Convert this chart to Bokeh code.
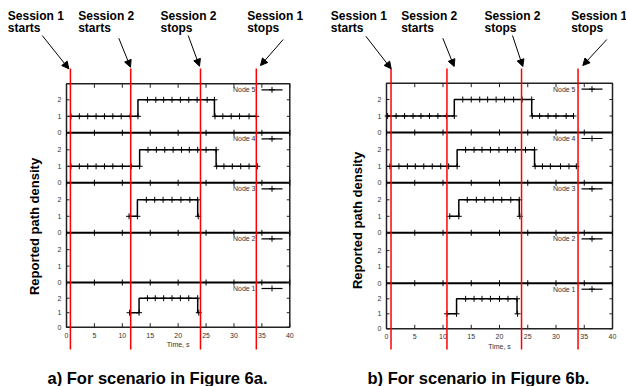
import math
from bokeh.plotting import figure
from bokeh.models import Range1d, Label, Arrow, NormalHead, ColumnDataSource
from bokeh.embed import file_html
from bokeh.resources import INLINE
from bokeh.core.properties import value

FONT = "Liberation Sans"

# ---------------- data ----------------
x_ticks = [0, 5, 10, 15, 20, 25, 30, 35, 40]
y_tick_values = [0, 1, 2]
node_names = ["Node 1", "Node 2", "Node 3", "Node 4", "Node 5"]
event_titles = ["Session 1", "Session 2", "Session 2", "Session 1"]
event_actions = ["starts", "starts", "stops", "stops"]
captions = ["a) For scenario in Figure 6a.", "b) For scenario in Figure 6b."]
x_label = "Time, s"
y_label = "Reported path density"

# scenario a
a_node1_t = [11.3, 13.0, 14.5, 15.9, 17.4, 18.9, 20.4, 21.9, 23.5, 23.7]
a_node1_y = [1, 1, 2, 2, 2, 2, 2, 2, 2, 1]
a_node2_t = []
a_node2_y = []
a_node3_t = [11.2, 12.7, 14.3, 15.8, 17.3, 18.9, 20.5, 22.1, 23.5, 23.6]
a_node3_y = [1, 1, 2, 2, 2, 2, 2, 2, 2, 1]
a_node4_t = [0.8, 2.3, 3.8, 5.3, 6.8, 8.3, 10.0, 11.6, 13.1,
             14.6, 16.1, 17.6, 19.1, 20.6, 22.0, 23.5, 25.0, 26.8,
             26.9, 28.2, 29.7, 31.2, 32.7, 34.2]
a_node4_y = [1, 1, 1, 1, 1, 1, 1, 1, 1,
             2, 2, 2, 2, 2, 2, 2, 2, 2,
             1, 1, 1, 1, 1, 1]
a_node5_t = [0.8, 2.3, 3.8, 5.3, 6.8, 8.3, 9.8, 11.4, 12.8,
             14.5, 16.0, 17.4, 18.9, 20.4, 21.9, 23.4, 25.2, 26.5,
             26.6, 28.0, 29.5, 31.0, 32.7, 34.0]
a_node5_y = [1, 1, 1, 1, 1, 1, 1, 1, 1,
             2, 2, 2, 2, 2, 2, 2, 2, 2,
             1, 1, 1, 1, 1, 1]
a_events = [0.7, 11.5, 24.0, 34.0]

# scenario b
b_node1_t = [10.7, 12.4, 14.0, 15.5, 16.9, 18.4, 20.0, 21.5, 23.1, 23.2]
b_node1_y = [1, 1, 2, 2, 2, 2, 2, 2, 2, 1]
b_node2_t = []
b_node2_y = []
b_node3_t = [11.2, 12.8, 14.3, 15.9, 17.4, 18.9, 20.4, 22.0, 23.5, 23.6]
b_node3_y = [1, 1, 2, 2, 2, 2, 2, 2, 2, 1]
b_node4_t = [0.6, 2.2, 3.7, 5.1, 6.6, 8.1, 9.6, 11.0, 12.5,
             14.0, 15.5, 16.9, 18.4, 19.9, 21.4, 22.8, 24.6, 26.2,
             26.3, 27.6, 29.0, 30.8, 32.3, 33.6]
b_node4_y = [1, 1, 1, 1, 1, 1, 1, 1, 1,
             2, 2, 2, 2, 2, 2, 2, 2, 2,
             1, 1, 1, 1, 1, 1]
b_node5_t = [0.2, 1.7, 3.2, 4.7, 6.1, 7.6, 9.1, 10.6, 12.0,
             13.5, 15.0, 16.5, 17.9, 19.4, 20.9, 22.5, 24.0, 25.7,
             25.8, 27.1, 28.6, 30.0, 31.8, 33.1]
b_node5_y = [1, 1, 1, 1, 1, 1, 1, 1, 1,
             2, 2, 2, 2, 2, 2, 2, 2, 2,
             1, 1, 1, 1, 1, 1]
b_events = [0.8, 10.7, 23.9, 33.9]

# ---------------- layout (positions / styles, in page pixels) ----------------
W, H = 626, 386
GRAY = "#333333"
PANELS = [
    dict(name="default", left=66, right=289.3, top=83.3,
         zero=[326.7, 282, 232.3, 182.3, 132.3], scale=[14.5, 16.4, 16.5, 16.5, 16.5],
         text_x=[7.3, 77.7, 160, 246.7],
         arrows=[(41.7, 35, 68.3, 68.3), (118.3, 37.7, 130, 66.7),
                 (187.7, 35, 199, 65.7), (282.7, 39, 260, 65)],
         cap_x=47, ylab=(33.5, 226)),
    dict(name="b", left=386, right=612, top=82.7,
         zero=[328.3, 282.7, 232.3, 182.3, 132.0], scale=[15.0, 16.3, 16.5, 16.5, 16.5],
         text_x=[330.3, 400.7, 484, 570.7],
         arrows=[(365.3, 35.7, 390.7, 68.3), (442.3, 37.7, 453.7, 66),
                 (512, 35, 522.3, 66), (606.3, 39, 582.3, 65)],
         cap_x=367, ylab=(357, 220)),
]

pa_geo = PANELS[0]
pxs_a = (pa_geo["right"] - pa_geo["left"]) / 40.0
p = figure(width=W, height=H, output_backend="svg", toolbar_location=None,
           x_range=Range1d(-pa_geo["left"] / pxs_a, (W - pa_geo["left"]) / pxs_a),
           y_range=Range1d(H, 0), min_border=0,
           x_axis_location=None, y_axis_location=None)
p.grid.visible = False
p.outline_line_color = None
p.background_fill_color = "white"
p.border_fill_color = "white"

pb_geo = PANELS[1]
pxs_b = (pb_geo["right"] - pb_geo["left"]) / 40.0
p.extra_x_ranges = {"b": Range1d(-pb_geo["left"] / pxs_b, (W - pb_geo["left"]) / pxs_b)}


def draw_panel(G, series, events, caption):
    rn = G["name"]
    pxs = (G["right"] - G["left"]) / 40.0
    bottom = G["zero"][0]
    top = G["top"]

    def tx(xref):
        return (xref - G["left"]) / pxs

    def dx(px):
        return px / pxs

    kw = dict(x_range_name=rn)

    # frame
    p.quad(left=[0], right=[40], top=[top], bottom=[bottom], fill_color=None,
           line_color="#222222", line_width=1.5, **kw)
    # strip separators
    seps = G["zero"][1:]
    p.segment(x0=[0] * len(seps), y0=seps, x1=[40] * len(seps), y1=seps,
              line_color="black", line_width=2, **kw)
    # x ticks (bottom / top inward, separators both ways)
    n = len(x_ticks)
    p.segment(x0=x_ticks, y0=[bottom] * n, x1=x_ticks, y1=[bottom - 4] * n,
              line_color="#222222", line_width=1, **kw)
    p.segment(x0=x_ticks, y0=[top] * n, x1=x_ticks, y1=[top + 4] * n,
              line_color="#222222", line_width=1, **kw)
    for s in seps:
        p.segment(x0=x_ticks, y0=[s - 3] * n, x1=x_ticks, y1=[s + 3] * n,
                  line_color="black", line_width=1, **kw)
    # y ticks
    ypos, ylab = [], []
    for z, sc in zip(G["zero"], G["scale"]):
        for v in y_tick_values:
            ypos.append(z - sc * v)
            ylab.append(str(v))
    m = len(ypos)
    p.segment(x0=[0] * m, y0=ypos, x1=[dx(3)] * m, y1=ypos, line_color="#222222", **kw)
    p.segment(x0=[40] * m, y0=ypos, x1=[40 - dx(3)] * m, y1=ypos, line_color="#222222", **kw)
    p.text(x=[-dx(5)] * m, y=ypos, text=ylab, text_align="right", text_baseline="middle",
           text_font=value(FONT), text_font_size="7px", text_color=GRAY, **kw)
    p.text(x=x_ticks, y=[bottom + 8] * n, text=[str(t) for t in x_ticks],
           text_align="center", text_baseline="middle",
           text_font=value(FONT), text_font_size="7px", text_color=GRAY, **kw)
    p.text(x=[20], y=[bottom + 17.5], text=[x_label], text_align="center",
           text_baseline="middle", text_font=value(FONT), text_font_size="7px",
           text_color=GRAY, **kw)

    # series + legend keys
    for k, (t, y) in enumerate(series):
        z, sc = G["zero"][k], G["scale"][k]
        if len(t):
            src = ColumnDataSource(dict(t=t, yy=[z - sc * v for v in y]))
            p.step(x="t", y="yy", source=src, mode="before", line_color="black",
                   line_width=1.5, **kw)
            p.scatter(x="t", y="yy", source=src, marker="cross", size=6,
                      line_color="black", line_width=1, **kw)
        strip_top = G["zero"][k + 1] if k + 1 < len(G["zero"]) else top
        ly = strip_top + 6
        p.text(x=[tx(G["left"] + 189)], y=[ly], text=[node_names[k]], text_align="right",
               text_baseline="middle", text_font=value(FONT), text_font_size="7px",
               text_color=GRAY, **kw)
        p.segment(x0=[tx(G["left"] + 195)], y0=[ly], x1=[tx(G["left"] + 216)], y1=[ly],
                  line_color="black", line_width=1.2, **kw)
        p.scatter(x=[tx(G["left"] + 205.5)], y=[ly], marker="cross", size=6,
                  line_color="black", line_width=1, **kw)

    # session start / stop lines
    ne = len(events)
    p.segment(x0=events, y0=[68] * ne, x1=events, y1=[349] * ne,
              line_color="#ff0000", line_width=1.5, **kw)

    # annotations
    for i in range(4):
        for txt, yb in ((event_titles[i], 15.5), (event_actions[i], 27.5)):
            p.add_layout(Label(x=tx(G["text_x"][i]), y=yb, text=txt, x_range_name=rn,
                               text_font=FONT, text_font_size="12px",
                               text_font_style="bold", text_color="black",
                               text_align="left", text_baseline="alphabetic"))
        x1, y1, x2, y2 = G["arrows"][i]
        p.add_layout(Arrow(end=NormalHead(size=7, fill_color="black", line_color="black",
                                          line_width=1),
                           x_start=tx(x1), y_start=y1, x_end=tx(x2), y_end=y2,
                           line_color="black", line_width=1, x_range_name=rn))

    yx, yy = G["ylab"]
    p.add_layout(Label(x=tx(yx), y=yy, text=y_label, angle=math.pi / 2, x_range_name=rn,
                       text_font=FONT, text_font_size="13px", text_font_style="bold",
                       text_align="center", text_baseline="middle", text_color="black"))
    p.add_layout(Label(x=tx(G["cap_x"]), y=377.5, text=caption, x_range_name=rn,
                       text_font=FONT, text_font_size="16.5px", text_font_style="bold",
                       text_align="left", text_baseline="alphabetic", text_color="black"))


series_a = [(a_node1_t, a_node1_y), (a_node2_t, a_node2_y), (a_node3_t, a_node3_y),
            (a_node4_t, a_node4_y), (a_node5_t, a_node5_y)]
series_b = [(b_node1_t, b_node1_y), (b_node2_t, b_node2_y), (b_node3_t, b_node3_y),
            (b_node4_t, b_node4_y), (b_node5_t, b_node5_y)]

draw_panel(PANELS[0], series_a, a_events, captions[0])
draw_panel(PANELS[1], series_b, b_events, captions[1])

with open("out.html", "w") as f:
    f.write(file_html(p, INLINE))
